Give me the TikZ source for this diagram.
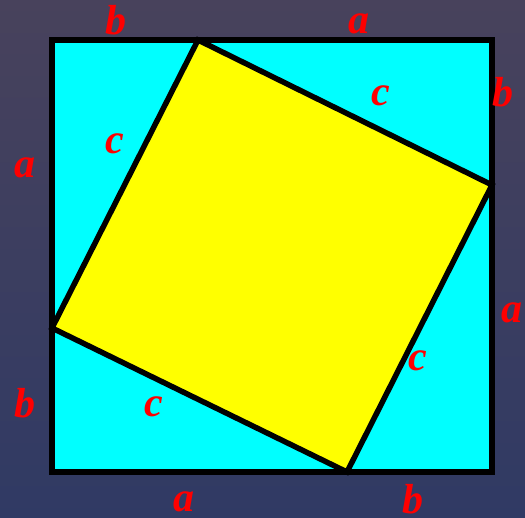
\documentclass[tikz,border=0pt]{standalone}
\usepackage{fontspec}
\setmainfont{Liberation Serif}
\usetikzlibrary{positioning, calc}
\definecolor{bgTop}{RGB}{72,66,92}
\definecolor{bgBottom}{RGB}{48,58,100}
\definecolor{triFill}{RGB}{0,255,255}
\definecolor{sqFill}{RGB}{255,255,0}
\definecolor{labelRed}{RGB}{255,0,0}
\tikzset{
    outerSq/.style={line width=5.5pt, draw=black, fill=triFill, line join=miter},
    innerSq/.style={line width=5.5pt, draw=black, fill=sqFill, line join=miter},
    sideLabel/.style={text=labelRed, inner sep=0pt, font=\fontsize{42}{42}\selectfont\bfseries\itshape}
}

\begin{document}
\begin{tikzpicture}[x=1pt, y=-1pt]

        % --- Background ---
        \useasboundingbox (0,0) rectangle (525,518);
        \shade[top color=bgTop, bottom color=bgBottom] (0,0) rectangle (525,518);

        % --- Coordinates (Outer square) ---
        \coordinate (O1) at (52,40);
        \coordinate (O2) at (492,40);
        \coordinate (O3) at (492,472);
        \coordinate (O4) at (52,472);

        % --- Coordinates (Inner square, on the sides) ---
        \coordinate (Q1) at (198,40);
        \coordinate (Q2) at (492,185);
        \coordinate (Q3) at (347,472);
        \coordinate (Q4) at (52,328);

        % 1. Outer square (four triangles)
        \draw[outerSq] (O1) -- (O2) -- (O3) -- (O4) -- cycle;

        % 2. Inner square
        \draw[innerSq] (Q1) -- (Q2) -- (Q3) -- (Q4) -- cycle;

        % 3. Labels of the outer sides
        \node[sideLabel] (bTop) at (116,20) {b};
        \node[sideLabel] (aTop) at (359,24) {a};
        \node[sideLabel] (bRight) at (503,92) {b};
        \node[sideLabel] (aRight) at (512,313) {a};
        \node[sideLabel] (bBottom) at (413,499) {b};
        \node[sideLabel] (aBottom) at (184,502) {a};
        \node[sideLabel] (bLeft) at (25,403) {b};
        \node[sideLabel] (aLeft) at (25,168) {a};

        % 4. Labels of the hypotenuses
        \node[sideLabel] (cTop) at (381,96) {c};
        \node[sideLabel] (cRight) at (418,361) {c};
        \node[sideLabel] (cBottom) at (154,407) {c};
        \node[sideLabel] (cLeft) at (115,144) {c};

\end{tikzpicture}
\end{document}
